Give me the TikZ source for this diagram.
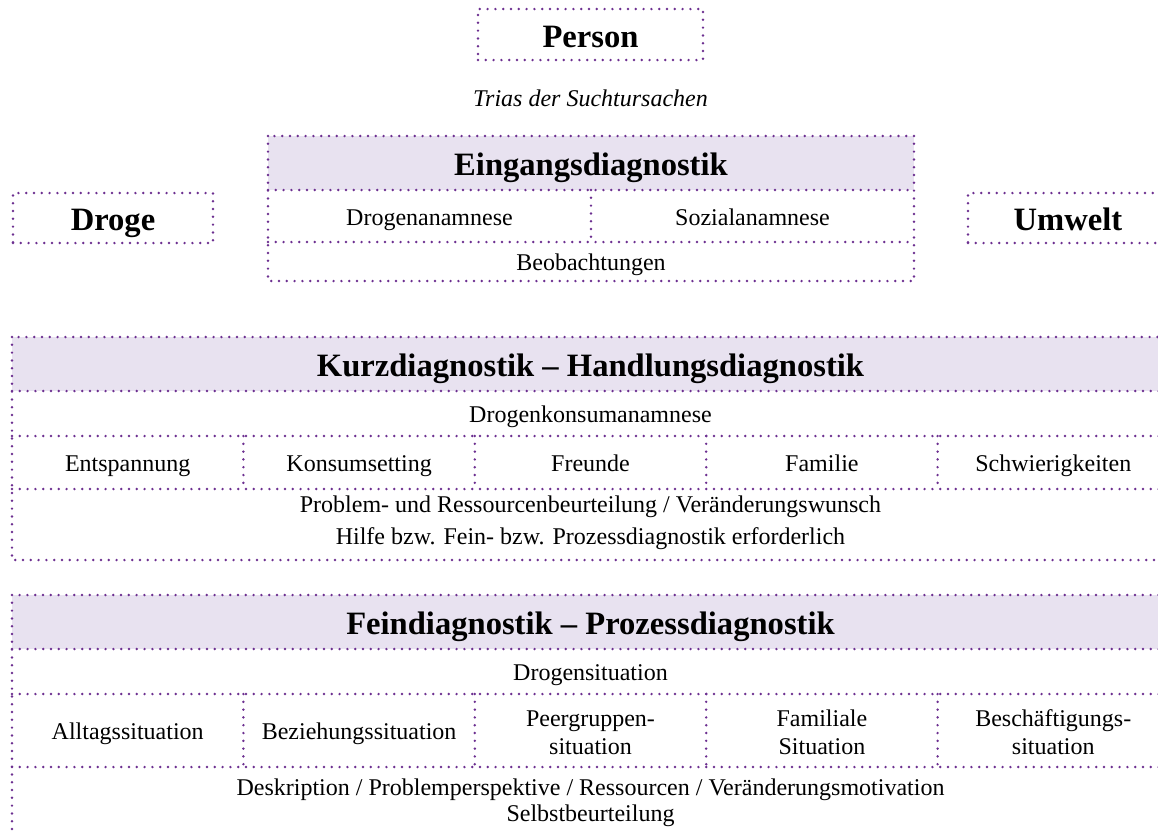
\documentclass[tikz,border=0pt]{standalone}
\usepackage{fontspec}
\setmainfont{Liberation Serif}
\definecolor{gridpurple}{HTML}{6C2F90}
\definecolor{headfill}{HTML}{E8E2F0}

\begin{document}
\begin{tikzpicture}[
    x=1pt, y=1pt,
    dotline/.style={draw=gridpurple, line width=1.35pt, line cap=round,
                    dash pattern=on 0pt off 3.9pt},
    cellbox/.style={anchor=north west, inner sep=0pt, outer sep=0pt, align=center,
                    font=\fontsize{12}{14}\selectfont, text height=9pt, text depth=0pt},
    headcell/.style={cellbox, fill=headfill, font=\fontsize{16.3}{19}\selectfont\bfseries,
                     text height=12pt},
    bigbox/.style={cellbox, dotline, font=\fontsize{16.3}{19}\selectfont\bfseries,
                   text height=12.5pt},
    twoline/.style={text height=#1, text depth=0pt},
    lbl/.style={font=\fontsize{12}{14}\selectfont\itshape, anchor=base},
  ]
  \useasboundingbox (0,0) rectangle (579,-416);

  % ---- top: the three causes
  \node[bigbox, minimum width=112.5pt, minimum height=25.5pt] (person) at (239,-4.5) {Person};
  \node[lbl] (trias) at (295.25,-53.3) {Trias der Suchtursachen};
  \node[bigbox, minimum width=100pt, minimum height=25pt] (droge) at (6.5,-96.5) {Droge};
  \node[bigbox, minimum width=100pt, minimum height=25pt] (umwelt) at (484,-96.5) {Umwelt};

  % ---- Eingangsdiagnostik
  \node[headcell, minimum width=323pt, minimum height=27pt] (eHead) at (134,-68) {Eingangsdiagnostik};
  \node[cellbox, minimum width=161.5pt, minimum height=26pt] (eDrog) at (134,-95) {Drogenanamnese};
  \node[cellbox, minimum width=161.5pt, minimum height=26pt] (eSoz) at (295.5,-95) {Sozialanamnese};
  \node[cellbox, minimum width=323pt, minimum height=19.5pt] (eBeob) at (134,-121) {Beobachtungen};
  \draw[dotline] (eHead.north west) rectangle (eBeob.south east);
  \draw[dotline] (eHead.south west) -- (eHead.south east);
  \draw[dotline] (eBeob.north west) -- (eBeob.north east);
  \draw[dotline] (eSoz.north west) -- (eSoz.south west);

  % ---- Kurzdiagnostik
  \node[headcell, minimum width=578.5pt, minimum height=27pt] (kHead) at (6,-168.5)
    {Kurzdiagnostik -- Handlungsdiagnostik};
  \node[cellbox, minimum width=578.5pt, minimum height=22.5pt] (kDrog) at (6,-195.5) {Drogenkonsumanamnese};
  \foreach \nm/\txt [count=\i from 0] in
      {kA/Entspannung, kB/Konsumsetting, kC/Freunde, kD/Familie, kE/Schwierigkeiten}
    \node[cellbox, minimum width=115.7pt, minimum height=26.5pt] (\nm) at (6+115.7*\i,-218) {\txt};
  \node[cellbox, twoline=19.5pt, minimum width=578.5pt, minimum height=35.5pt] (kProb) at (6,-244.5)
    {Problem- und Ressourcenbeurteilung / Veränderungswunsch\\[2pt]
     Hilfe bzw. Fein- bzw. Prozessdiagnostik erforderlich};
  \draw[dotline] (kHead.north west) rectangle (kProb.south east);
  \draw[dotline] (kHead.south west) -- (kHead.south east);
  \draw[dotline] (kA.north west) -- (kE.north east);
  \draw[dotline] (kA.south west) -- (kE.south east);
  \foreach \nm in {kB,kC,kD,kE}
    \draw[dotline] (\nm.north west) -- (\nm.south west);

  % ---- Feindiagnostik
  \node[headcell, minimum width=578.5pt, minimum height=27pt] (fHead) at (6,-297.5)
    {Feindiagnostik -- Prozessdiagnostik};
  \node[cellbox, minimum width=578.5pt, minimum height=22.5pt] (fDrog) at (6,-324.5) {Drogensituation};
  \foreach \nm/\txt [count=\i from 0] in
      {fA/Alltagssituation, fB/Beziehungssituation}
    \node[cellbox, minimum width=115.7pt, minimum height=36.5pt] (\nm) at (6+115.7*\i,-347) {\txt};
  \foreach \nm/\txt [count=\i from 2] in
      {fC/Peergruppen-\\situation, fD/Familiale\\Situation, fE/Beschäftigungs-\\situation}
    \node[cellbox, twoline=23.5pt, minimum width=115.7pt, minimum height=36.5pt] (\nm) at (6+115.7*\i,-347) {\txt};
  \node[cellbox, twoline=19.2pt, minimum width=578.5pt, minimum height=35.5pt] (fDesk) at (6,-383.5)
    {Deskription / Problemperspektive / Ressourcen / Veränderungsmotivation\\[-0.7pt]
     Selbstbeurteilung};
  \draw[dotline] (fHead.north west) rectangle (fDesk.south east);
  \draw[dotline] (fHead.south west) -- (fHead.south east);
  \draw[dotline] (fA.north west) -- (fE.north east);
  \draw[dotline] (fA.south west) -- (fE.south east);
  \foreach \nm in {fB,fC,fD,fE}
    \draw[dotline] (\nm.north west) -- (\nm.south west);
\end{tikzpicture}
\end{document}
